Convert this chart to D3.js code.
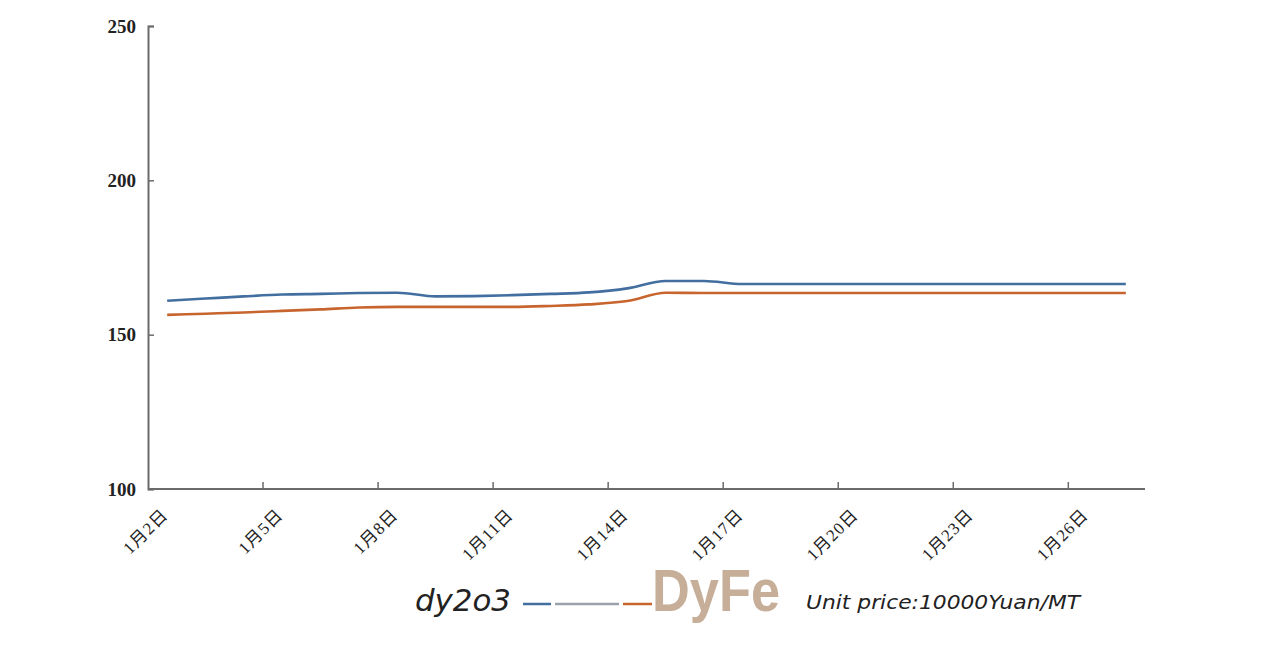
<!DOCTYPE html>
<html>
<head>
<meta charset="utf-8">
<script src="https://cdn.jsdelivr.net/npm/d3@7"></script>
<style>
  body { margin: 0; background: #fff; }
  svg { display: block; }
</style>
</head>
<body>
<svg id="chart" width="1265" height="656"></svg>
<script>
// daily prices, Jan 2 - Jan 27
var days = d3.range(2, 28).map(function (d) { return "1月" + d + "日"; });
var dy2o3 = [161.0, 161.7, 162.4, 163.0, 163.2, 163.5, 163.6, 162.4, 162.5, 162.8,
             163.2, 163.7, 165.0, 167.4, 167.4, 166.4, 166.4, 166.4, 166.4, 166.4,
             166.4, 166.4, 166.4, 166.4, 166.4, 166.4];
var dyfe = [156.4, 156.8, 157.2, 157.7, 158.2, 158.8, 159.0, 159.0, 159.0, 159.0,
            159.3, 159.8, 160.9, 163.6, 163.5, 163.5, 163.5, 163.5, 163.5, 163.5,
            163.5, 163.5, 163.5, 163.5, 163.5, 163.5];
var yTicks = [100, 150, 200, 250];
var labelEvery = 3;

var svg = d3.select("#chart");
var plotLeft = 148, plotRight = 1145, plotTop = 26, plotBottom = 489;

var x = d3.scaleBand().domain(days).range([plotLeft, plotRight]);
var y = d3.scaleLinear().domain([100, 250]).range([plotBottom, plotTop]);

var axisColor = "#6b6b6b";

// y axis
var yAxis = svg.append("g")
    .attr("transform", "translate(" + plotLeft + ",0)")
    .call(d3.axisRight(y).tickValues(yTicks).tickSize(6).tickFormat(""));
yAxis.select(".domain").attr("stroke", axisColor).attr("stroke-width", 2);
yAxis.selectAll(".tick line").attr("stroke", axisColor).attr("stroke-width", 1.5);

svg.append("g").selectAll("text")
    .data(yTicks)
    .enter().append("text")
    .attr("x", 136)
    .attr("y", function (d) { return y(d); })
    .attr("dy", "0.35em")
    .attr("text-anchor", "end")
    .attr("font-family", "'Liberation Serif', 'Times New Roman', serif")
    .attr("font-weight", "bold")
    .attr("font-size", 19)
    .attr("fill", "#222")
    .text(function (d) { return d; });

// x axis, ticks at band boundaries every 3 days
var tickDays = days.filter(function (d, i) { return i % labelEvery === 0; });
svg.append("line")
    .attr("x1", plotLeft).attr("x2", plotRight)
    .attr("y1", plotBottom).attr("y2", plotBottom)
    .attr("stroke", axisColor).attr("stroke-width", 2);

svg.append("g").selectAll("line")
    .data(tickDays.slice(1))
    .enter().append("line")
    .attr("x1", function (d) { return x(d); })
    .attr("x2", function (d) { return x(d); })
    .attr("y1", plotBottom).attr("y2", plotBottom - 7)
    .attr("stroke", axisColor).attr("stroke-width", 1.5);

svg.append("g").selectAll("text")
    .data(tickDays)
    .enter().append("text")
    .attr("transform", function (d) {
        return "translate(" + (x(d) + 21) + "," + (plotBottom + 27) + ") rotate(-45)";
    })
    .attr("text-anchor", "end")
    .attr("font-family", "'Liberation Serif', 'Noto Sans CJK SC', serif")
    .attr("font-size", 17)
    .attr("letter-spacing", 1)
    .attr("fill", "#222")
    .text(function (d) { return d; });

// lines
var line = d3.line()
    .x(function (d, i) { return x(days[i]) + x.bandwidth() / 2; })
    .y(function (d) { return y(d); })
    .curve(d3.curveMonotoneX);

svg.append("path")
    .datum(dy2o3)
    .attr("fill", "none")
    .attr("stroke", "#426f9f")
    .attr("stroke-width", 2.6)
    .attr("d", line);

svg.append("path")
    .datum(dyfe)
    .attr("fill", "none")
    .attr("stroke", "#c8652e")
    .attr("stroke-width", 2.6)
    .attr("d", line);

// legend
var hand = "'DejaVu Sans', sans-serif";
svg.append("text")
    .attr("x", 415).attr("y", 611)
    .attr("font-family", hand)
    .attr("font-style", "italic")
    .attr("font-weight", 300)
    .attr("font-size", 30)
    .attr("textLength", 96)
    .attr("lengthAdjust", "spacingAndGlyphs")
    .attr("fill", "#222")
    .text("dy2o3");

var legendLines = [
    { x1: 523, x2: 551, color: "#426f9f" },
    { x1: 555, x2: 619, color: "#9aa3ad" },
    { x1: 623, x2: 652, color: "#c8652e" }
];
svg.append("g").selectAll("line")
    .data(legendLines)
    .enter().append("line")
    .attr("x1", function (d) { return d.x1; })
    .attr("x2", function (d) { return d.x2; })
    .attr("y1", 604).attr("y2", 604)
    .attr("stroke", function (d) { return d.color; })
    .attr("stroke-width", 2.5);

svg.append("text")
    .attr("x", 652).attr("y", 611)
    .attr("font-family", "'Liberation Sans', Arial, sans-serif")
    .attr("font-weight", "bold")
    .attr("font-size", 60)
    .attr("textLength", 128)
    .attr("lengthAdjust", "spacingAndGlyphs")
    .attr("fill", "#c6ae99")
    .text("DyFe");

svg.append("text")
    .attr("x", 806).attr("y", 609)
    .attr("font-family", hand)
    .attr("font-style", "italic")
    .attr("font-size", 20)
    .attr("textLength", 274)
    .attr("lengthAdjust", "spacingAndGlyphs")
    .attr("fill", "#222")
    .text("Unit price:10000Yuan/MT");
</script>
</body>
</html>
